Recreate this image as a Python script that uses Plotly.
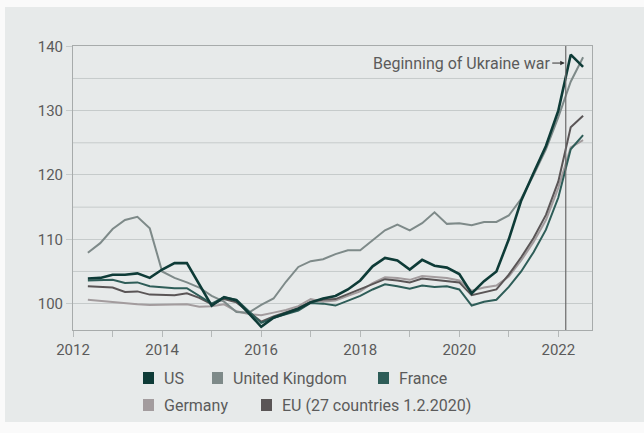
import plotly.graph_objects as go

quarters = [2012.5, 2012.75, 2013.0, 2013.25, 2013.5, 2013.75, 2014.0, 2014.25, 2014.5, 2014.75,
            2015.0, 2015.25, 2015.5, 2015.75, 2016.0, 2016.25, 2016.5, 2016.75, 2017.0, 2017.25,
            2017.5, 2017.75, 2018.0, 2018.25, 2018.5, 2018.75, 2019.0, 2019.25, 2019.5, 2019.75,
            2020.0, 2020.25, 2020.5, 2020.75, 2021.0, 2021.25, 2021.5, 2021.75, 2022.0, 2022.25, 2022.5]

us = [103.9, 104.0, 104.5, 104.5, 104.7, 104.0, 105.3, 106.3, 106.3, 103.0,
      99.7, 101.0, 100.5, 98.5, 96.4, 97.8, 98.5, 99.2, 100.2, 100.8,
      101.2, 102.2, 103.6, 105.8, 107.1, 106.7, 105.3, 106.8, 105.9, 105.6,
      104.6, 101.6, 103.5, 105.0, 110.0, 116.0, 120.3, 124.5, 130.0, 138.7, 136.8]

uk = [107.9, 109.4, 111.6, 113.0, 113.5, 111.7, 105.0, 104.0, 103.3, 102.5,
      101.2, 100.3, 98.7, 98.6, 99.8, 100.8, 103.4, 105.7, 106.6, 106.9,
      107.7, 108.3, 108.3, 109.8, 111.4, 112.3, 111.4, 112.5, 114.2, 112.4,
      112.5, 112.2, 112.7, 112.7, 113.7, 116.3, 120.0, 124.0, 129.0, 134.5, 138.3]

france = [103.6, 103.7, 103.7, 103.2, 103.3, 102.7, 102.5, 102.4, 102.4, 101.2,
          100.0, 101.0, 100.6, 98.8, 97.0, 97.8, 98.3, 98.9, 100.1, 100.0,
          99.7, 100.4, 101.2, 102.2, 103.0, 102.7, 102.3, 102.8, 102.6, 102.7,
          102.2, 99.7, 100.3, 100.6, 102.6, 105.0, 108.0, 111.5, 116.5, 124.0, 126.2]

germany = [100.6, 100.4, 100.3, 100.1, 99.9, 99.8, 99.8, 99.8, 99.9, 99.5,
           99.6, 99.9, 98.8, 98.4, 98.2, 98.6, 99.0, 99.6, 100.7, 100.3,
           100.5, 101.2, 101.9, 103.2, 104.1, 104.0, 103.7, 104.3, 104.1, 104.0,
           103.6, 102.0, 102.5, 102.8, 104.2, 106.7, 109.6, 113.0, 118.0, 124.3, 125.4]

eu = [102.7, 102.6, 102.5, 101.8, 101.9, 101.4, 101.3, 101.3, 101.6, 100.9,
      99.9, 100.7, 100.2, 98.7, 97.2, 98.0, 98.6, 99.3, 100.3, 100.6,
      100.7, 101.5, 102.2, 103.0, 103.8, 103.6, 103.3, 103.9, 103.7, 103.6,
      103.3, 101.3, 101.7, 102.2, 104.5, 107.2, 110.2, 113.8, 119.0, 127.4, 129.2]

series_names = ["US", "United Kingdom", "France", "Germany", "EU (27 countries 1.2.2020)"]
series_values = [us, uk, france, germany, eu]
series_colors = ["#0e3b37", "#7e8a89", "#2e5d58", "#a39c9e", "#5a5556"]
series_widths = [2.6, 2.0, 2.0, 2.0, 2.0]

x_tickvals = [2012.2, 2013, 2014, 2015, 2016, 2017, 2018, 2019, 2020, 2021, 2022]
x_ticktext = ["2012", "", "2014", "", "2016", "", "2018", "", "2020", "", "2022"]
y_tickvals = [100, 110, 120, 130, 140]
y_gridvals = [105, 115, 125, 135]

war_date = 2022.15
war_label = "Beginning of Ukraine war"

FONT = "Roboto"
TXT = "#5b5b5b"
BG = "#e7eaea"
FRAME = "#fafafa"

fig = go.Figure()
draw_order = [3, 4, 1, 2, 0]
for i in draw_order:
    fig.add_trace(go.Scatter(
        x=quarters, y=series_values[i], mode="lines", name=series_names[i],
        line=dict(color=series_colors[i], width=series_widths[i]),
        showlegend=False))

# plot geometry (pixels)
W, H = 644, 433
ML, MR, MT, MB = 73, 52, 46, 103
PW = W - ML - MR
PH = H - MT - MB

def px(xp):
    return (xp - ML) / PW

def py(yp):
    return (H - MB - yp) / PH

shapes = []
# background panel with light frame
shapes.append(dict(type="rect", xref="paper", yref="paper", layer="below",
                   x0=px(5), x1=px(650), y0=py(422), y1=py(7),
                   fillcolor=BG, line=dict(width=0)))
# intermediate grid lines
for g in y_gridvals:
    shapes.append(dict(type="line", xref="paper", yref="y", layer="below",
                       x0=0, x1=1, y0=g, y1=g, line=dict(color="#c6cbcb", width=1)))
# war line
shapes.append(dict(type="line", xref="x", yref="paper", x0=war_date, x1=war_date,
                   y0=0, y1=1, line=dict(color="#6a6a6a", width=1.2)))

annotations = []
annotations.append(dict(x=war_date, y=137.4, xref="x", yref="y", text=war_label,
                        showarrow=True, ax=-104, ay=0, arrowhead=2, arrowsize=0.9,
                        arrowwidth=1, arrowcolor="#333333", standoff=1,
                        font=dict(family=FONT, size=16, color=TXT)))

# manual legend
legend_pos = [(143, 378), (212, 378), (378, 378), (143, 405), (261, 405)]
for name, col, (lx, ly) in zip(series_names, series_colors, legend_pos):
    shapes.append(dict(type="rect", xref="paper", yref="paper",
                       x0=px(lx), x1=px(lx + 11), y0=py(ly + 6), y1=py(ly - 6),
                       fillcolor=col, line=dict(width=0)))
    annotations.append(dict(x=px(lx + 19), y=py(ly), xref="paper", yref="paper",
                            text=name, showarrow=False, xanchor="left", yanchor="middle",
                            font=dict(family=FONT, size=16, color=TXT)))

fig.update_layout(
    width=W, height=H,
    margin=dict(l=ML, r=MR, t=MT, b=MB),
    paper_bgcolor=FRAME, plot_bgcolor=BG,
    shapes=shapes, annotations=annotations,
    font=dict(family=FONT, size=15, color=TXT),
    showlegend=False,
)
fig.update_xaxes(range=[2012.2, 2022.68], tickvals=x_tickvals, ticktext=x_ticktext,
                 showgrid=False, zeroline=False, showline=True, linecolor="#a7abab",
                 linewidth=1, mirror=True, ticks="outside", ticklen=6, tickcolor="#b5b9b9",
                 tickfont=dict(family=FONT, size=15, color=TXT))
fig.update_yaxes(range=[95.9, 140.05], tickvals=y_tickvals, showgrid=True,
                 gridcolor="#c6cbcb", gridwidth=1, zeroline=False, showline=True,
                 linecolor="#a7abab", linewidth=1, mirror=True, ticks="outside",
                 ticklen=6, tickcolor="#c6cbcb",
                 tickfont=dict(family=FONT, size=15, color=TXT))

fig.write_html("out.html", config={"displayModeBar": False},
               post_script="document.body.style.margin='0px';document.body.style.background='#fafafa';")
